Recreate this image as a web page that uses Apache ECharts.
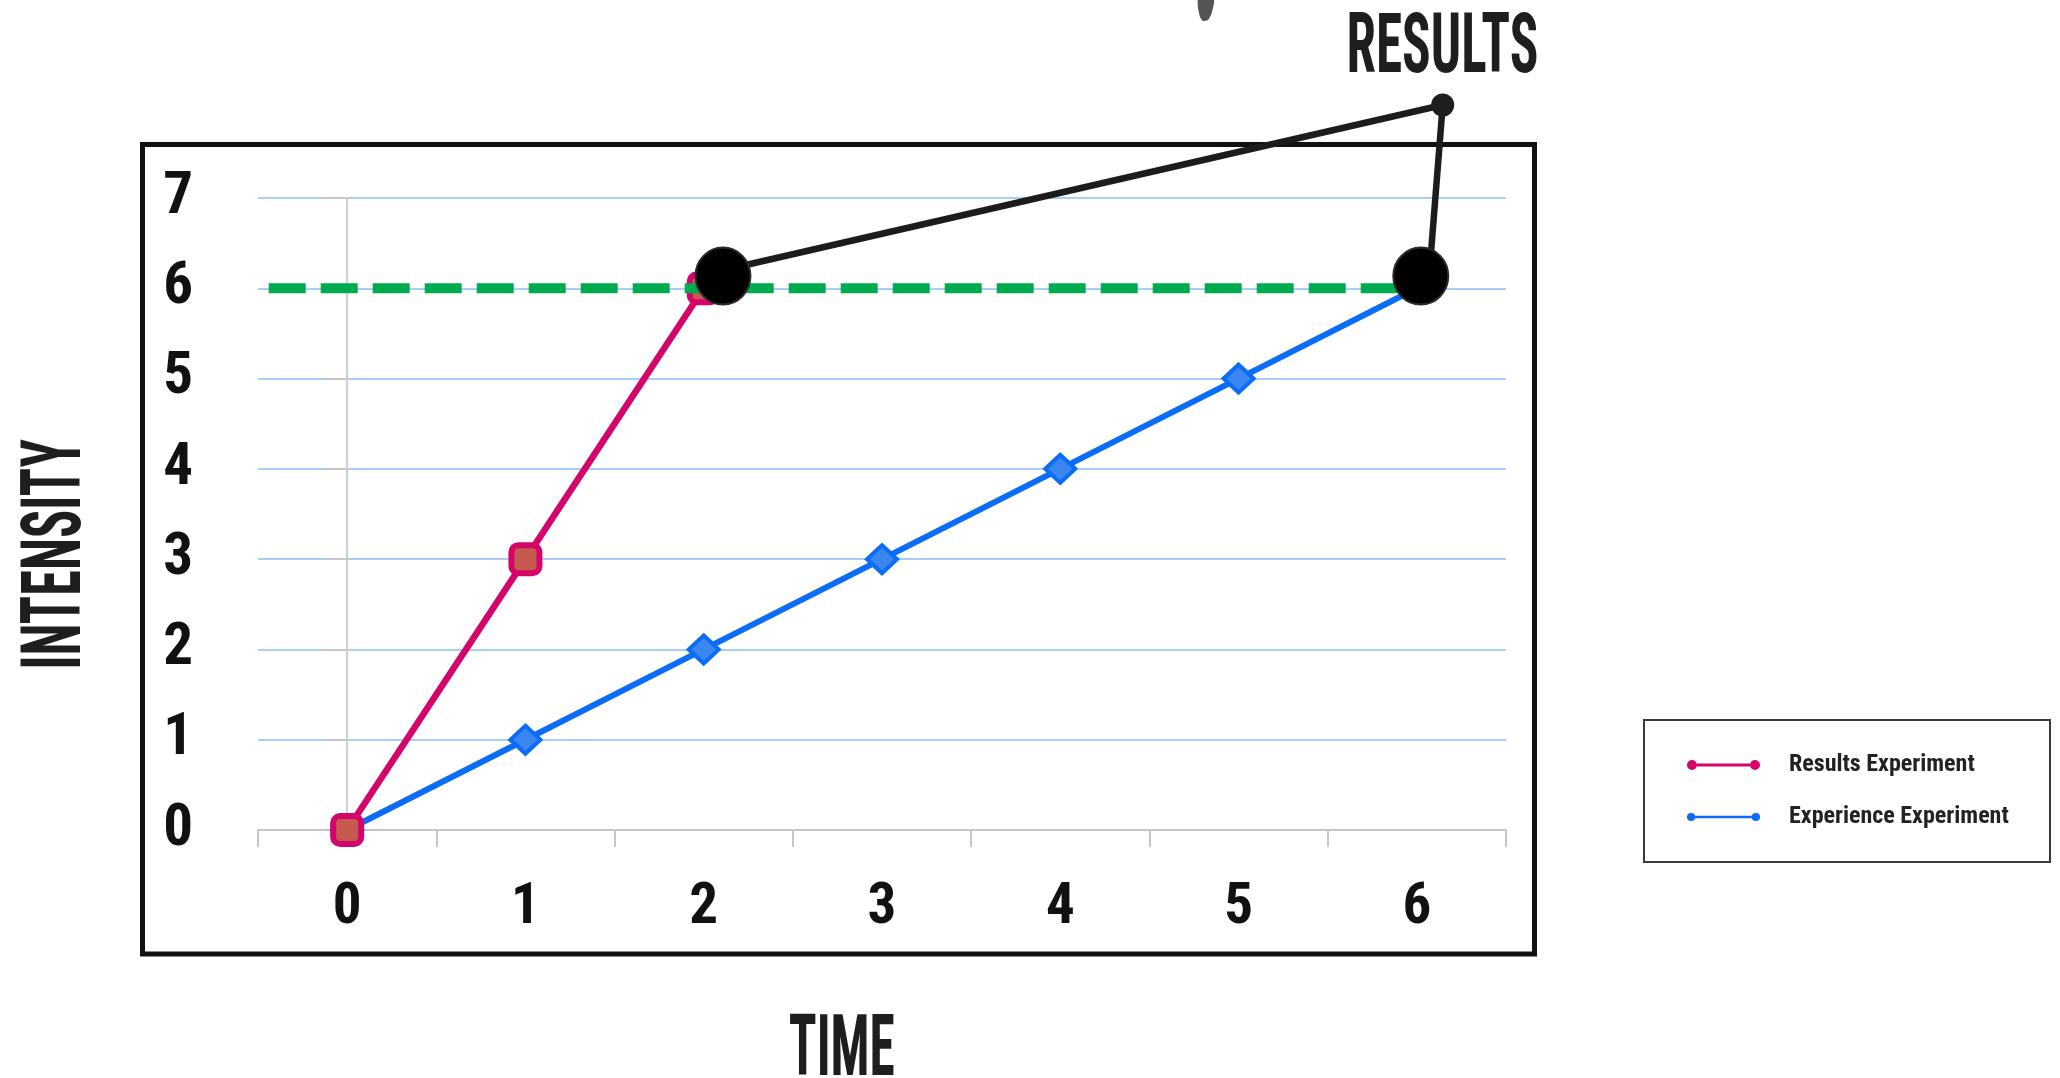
<!DOCTYPE html>
<html>
<head>
<meta charset="utf-8">
<script src="https://cdn.jsdelivr.net/npm/echarts@6/dist/echarts.min.js"></script>
<style>
html,body{margin:0;padding:0;background:#fff;}
#chart{width:2060px;height:1078px;}
</style>
</head>
<body>
<div id="chart"></div>
<script>
// ---- data ----
var categories = ['0', '1', '2', '3', '4', '5', '6'];
var resultsValues = [0, 3, 6];
var experienceValues = [0, 1, 2, 3, 4, 5, 6];
var yMin = 0, yMax = 7, yInterval = 1;
var thresholdValue = 6;
var thresholdRange = [-0.44, 5.97];
var calloutCircles = [[2.108, 6.135], [6.022, 6.135]];
var calloutPath = [[2.108, 6.2], [6.145, 8.03], [6.073, 6.235]];
var calloutDot = [[6.145, 8.03]];
var seriesNames = ['Results Experiment', 'Experience Experiment'];
var titleY = 'INTENSITY', titleX = 'TIME', titleCallout = 'RESULTS';

// ---- styling ----
var pink = '#d4046a', blue = '#0b6cf8', green = '#00ab4f';
var condFont = "'Roboto Condensed', 'DejaVu Sans Condensed', sans-serif";
var titleSize = 84;

var mctx = document.createElement('canvas').getContext('2d');
function titleText(text, cx, cy, w, cap, rot) {
  rot = rot || 0;
  mctx.font = 'bold ' + titleSize + 'px ' + condFont;
  mctx.textAlign = 'center';
  mctx.textBaseline = 'middle';
  var m = mctx.measureText(text);
  var inkW = (m.actualBoundingBoxLeft + m.actualBoundingBoxRight) || m.width;
  var inkH = (m.actualBoundingBoxAscent + m.actualBoundingBoxDescent) || titleSize * 0.72;
  var sx = w / inkW, sy = cap / inkH;
  var icx = (m.actualBoundingBoxRight - m.actualBoundingBoxLeft) / 2 * sx;
  var icy = (m.actualBoundingBoxDescent - m.actualBoundingBoxAscent) / 2 * sy;
  var c = Math.cos(rot), s = Math.sin(rot);
  var dx = icx * c + icy * s, dy = -icx * s + icy * c;
  return {
    type: 'text', x: cx - dx, y: cy - dy, rotation: rot, scaleX: sx, scaleY: sy, z: 20,
    style: {
      text: text, fill: '#1e1e1e', fontSize: titleSize, fontWeight: 'bold', fontFamily: condFont,
      textAlign: 'center', textVerticalAlign: 'middle', align: 'center', verticalAlign: 'middle'
    }
  };
}

var pinkIcon = 'path://M0,6a5,5 0 1,0 10,0a5,5 0 1,0 -10,0ZM63,6a5,5 0 1,0 10,0a5,5 0 1,0 -10,0ZM10,4.6L63,4.6L63,7.4L10,7.4Z';
var blueIcon = 'path://M1,6a4,4 0 1,0 8,0a4,4 0 1,0 -8,0ZM64,6a4,4 0 1,0 8,0a4,4 0 1,0 -8,0ZM9,4.8L64,4.8L64,7.2L9,7.2Z';

var chart = echarts.init(document.getElementById('chart'), null, {renderer: 'canvas'});
var option = {
  animation: false,
  backgroundColor: '#ffffff',
  grid: {left: 258, right: 554, top: 198, bottom: 248, containLabel: false},
  legend: {
    orient: 'vertical', left: 1687, top: 750, padding: 0, itemGap: 22,
    itemWidth: 73, itemHeight: 12,
    textStyle: {fontSize: 24, fontWeight: 'bold', fontFamily: condFont, color: '#222', lineHeight: 30, padding: [0, 0, 0, 24]},
    data: [
      {name: seriesNames[0], icon: pinkIcon, itemStyle: {color: pink, borderWidth: 0}},
      {name: seriesNames[1], icon: blueIcon, itemStyle: {color: blue, borderWidth: 0}}
    ]
  },
  xAxis: [{
    type: 'category', data: categories, boundaryGap: true,
    axisLine: {show: true, lineStyle: {color: '#c6c6c6', width: 2}},
    axisTick: {show: true, length: 17, lineStyle: {color: '#c6c6c6', width: 2}},
    axisLabel: {margin: 79, verticalAlign: 'middle', fontSize: 57, fontWeight: 'bold', fontFamily: condFont, color: '#111'},
    splitLine: {show: false}
  }, {
    type: 'value', min: -0.5, max: 6.5, show: false
  }],
  yAxis: [{
    type: 'value', min: yMin, max: yMax, interval: yInterval,
    axisLine: {show: true, lineStyle: {color: '#cfcfcf', width: 2}},
    axisTick: {show: true, length: 21, lineStyle: {color: '#c6c6c6', width: 2}},
    axisLabel: {margin: 65, fontSize: 59, fontWeight: 'bold', fontFamily: condFont, color: '#111'},
    splitLine: {show: true, lineStyle: {color: '#a9cdf7', width: 2}}
  }],
  series: [
    {
      name: seriesNames[1], type: 'line', data: experienceValues, z: 3,
      symbol: 'diamond', symbolSize: [30, 28],
      itemStyle: {color: '#3b87f2', borderColor: blue, borderWidth: 4},
      lineStyle: {color: blue, width: 6}
    },
    {
      name: seriesNames[0], type: 'line', data: resultsValues, z: 4,
      symbol: 'roundRect', symbolSize: 28,
      itemStyle: {color: '#c65a4e', borderColor: pink, borderWidth: 6},
      lineStyle: {color: pink, width: 6.5}
    },
    {
      name: 'threshold', type: 'line', xAxisIndex: 1, z: 5, silent: true,
      data: [[thresholdRange[0], thresholdValue], [thresholdRange[1], thresholdValue]],
      symbol: 'none', lineStyle: {color: green, width: 10, type: [37, 15], cap: 'butt'}
    },
    {
      name: 'callout', type: 'line', xAxisIndex: 1, z: 10, clip: false, silent: true,
      data: calloutPath, symbol: 'none',
      lineStyle: {color: '#1c1c1c', width: 6.5, cap: 'round', join: 'round'}
    },
    {
      name: 'calloutCircles', type: 'scatter', xAxisIndex: 1, z: 11, clip: false, silent: true,
      data: calloutCircles, symbol: 'circle', symbolSize: [55, 57],
      itemStyle: {color: '#000', borderColor: '#2b2b2b', borderWidth: 2, opacity: 1}
    },
    {
      name: 'calloutDot', type: 'scatter', xAxisIndex: 1, z: 11, clip: false, silent: true,
      data: calloutDot, symbol: 'circle', symbolSize: 23,
      itemStyle: {color: '#1e1e1e', opacity: 1}
    }
  ],
  graphic: [
    {type: 'rect', z: 1, shape: {x: 142.5, y: 144.5, width: 1392, height: 809.5}, style: {fill: 'none', stroke: '#111', lineWidth: 5}},
    {type: 'rect', z: 1, shape: {x: 1644, y: 720, width: 406, height: 142}, style: {fill: 'none', stroke: '#3a3a3a', lineWidth: 2}},
    {type: 'polygon', z: 1, shape: {points: [[1198, 0], [1214, 0], [1213, 8], [1211, 15], [1208, 20], [1203, 21], [1200, 17], [1198, 8]], smooth: 0.15}, style: {fill: '#555555'}},
    titleText(titleY, 50, 553, 227, 61, Math.PI / 2),
    titleText(titleX, 842, 1044, 104, 61, 0),
    titleText(titleCallout, 1443, 43, 188, 60, 0)
  ]
};
chart.setOption(option);
</script>
</body>
</html>
